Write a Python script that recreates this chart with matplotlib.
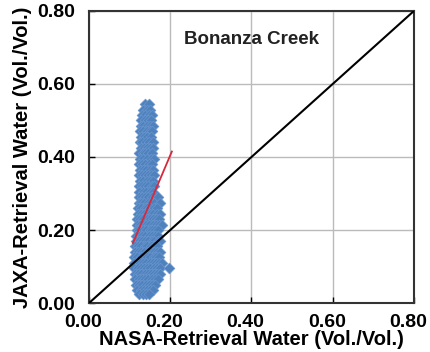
import numpy as np
import matplotlib
matplotlib.use('Agg')
import matplotlib.pyplot as plt
import matplotlib.transforms as mtransforms

plt.rcParams['font.family'] = ['Liberation Sans', 'DejaVu Sans']

# scatter, one row of NASA values per JAXA level
row_jaxa = [0.545, 0.530, 0.515, 0.500, 0.485, 0.470, 0.455, 0.440, 0.425, 0.410,
            0.395, 0.380, 0.365, 0.350, 0.335, 0.320, 0.305, 0.290, 0.275, 0.260,
            0.245, 0.230, 0.215, 0.200, 0.185, 0.170, 0.155, 0.140, 0.125, 0.110,
            0.095, 0.080, 0.065, 0.050, 0.035, 0.025]
row_nasa = [
    [0.138, 0.147],
    [0.133, 0.142, 0.151],
    [0.131, 0.139, 0.148, 0.155],
    [0.129, 0.138, 0.145, 0.153],
    [0.127, 0.134, 0.144, 0.150, 0.157],
    [0.126, 0.133, 0.142, 0.149, 0.156],
    [0.128, 0.136, 0.144, 0.153],
    [0.125, 0.131, 0.140, 0.148, 0.157],
    [0.127, 0.135, 0.143, 0.151, 0.158],
    [0.124, 0.132, 0.139, 0.146, 0.155],
    [0.126, 0.134, 0.142, 0.152, 0.159],
    [0.124, 0.130, 0.138, 0.147, 0.154],
    [0.125, 0.133, 0.141, 0.149, 0.157],
    [0.124, 0.131, 0.137, 0.145, 0.152, 0.160],
    [0.126, 0.134, 0.142, 0.150, 0.157],
    [0.123, 0.130, 0.139, 0.146, 0.155, 0.161],
    [0.124, 0.133, 0.141, 0.149, 0.158],
    [0.123, 0.131, 0.138, 0.146, 0.154, 0.163, 0.169],
    [0.122, 0.129, 0.136, 0.145, 0.152, 0.161, 0.174],
    [0.121, 0.128, 0.137, 0.144, 0.151, 0.160, 0.167],
    [0.120, 0.127, 0.135, 0.142, 0.151, 0.158, 0.167, 0.176],
    [0.119, 0.126, 0.134, 0.143, 0.150, 0.158, 0.165, 0.173],
    [0.118, 0.126, 0.133, 0.141, 0.148, 0.157, 0.164, 0.172, 0.179],
    [0.117, 0.124, 0.132, 0.140, 0.149, 0.156, 0.163, 0.171],
    [0.116, 0.123, 0.131, 0.138, 0.147, 0.155, 0.162, 0.170],
    [0.115, 0.122, 0.130, 0.139, 0.146, 0.154, 0.161, 0.169, 0.176],
    [0.114, 0.121, 0.129, 0.137, 0.144, 0.153, 0.160, 0.168],
    [0.113, 0.120, 0.128, 0.136, 0.145, 0.152, 0.159, 0.167, 0.174],
    [0.112, 0.119, 0.127, 0.135, 0.143, 0.151, 0.159, 0.166, 0.173],
    [0.111, 0.118, 0.126, 0.134, 0.141, 0.150, 0.157, 0.165, 0.172, 0.180],
    [0.112, 0.120, 0.127, 0.136, 0.144, 0.151, 0.160, 0.167, 0.175, 0.196],
    [0.113, 0.121, 0.129, 0.137, 0.145, 0.153, 0.160, 0.168, 0.175],
    [0.114, 0.122, 0.130, 0.138, 0.146, 0.154, 0.162, 0.169],
    [0.116, 0.124, 0.131, 0.140, 0.147, 0.156, 0.163],
    [0.119, 0.127, 0.135, 0.143, 0.151, 0.158],
    [0.124, 0.132, 0.140, 0.148],
]

# red fitted line, end points
fit_x = [0.108, 0.204]
fit_y = [0.164, 0.415]

ticks = [0.0, 0.2, 0.4, 0.6, 0.8]
tick_labels = ['0.00', '0.20', '0.40', '0.60', '0.80']

nasa = np.concatenate([np.array(r) for r in row_nasa])
jaxa = np.concatenate([np.full(len(r), y) for r, y in zip(row_nasa, row_jaxa)])

fig = plt.figure(figsize=(4.31, 3.52), dpi=100)
ax = fig.add_axes([0.2065, 0.139, 0.754, 0.830])

ax.scatter(nasa, jaxa, marker='D', s=30, color='#4F81BD',
           edgecolor='#6A96CF', linewidth=0.5, zorder=3)
ax.plot([0, 0.8], [0, 0.8], color='black', linewidth=1.5, zorder=4)
ax.plot(fit_x, fit_y, color='#D8283C', linewidth=1.3, zorder=5)

ax.set_xlim(0, 0.8)
ax.set_ylim(0, 0.8)
ax.set_xticks(ticks)
ax.set_yticks(ticks)
ax.set_xticklabels(tick_labels, fontsize=14, fontweight='bold')
ax.set_yticklabels(tick_labels, fontsize=14, fontweight='bold')
ax.tick_params(direction='in', length=4, width=1, pad=8)
ax.tick_params(axis='y', pad=10)
ax.grid(True, color='#BBBBBB', linewidth=1)
ax.set_axisbelow(True)
for s in ax.spines.values():
    s.set_linewidth(1.5)
    s.set_color('#333333')

# x tick labels sit a little left of their ticks in the original
shift = mtransforms.ScaledTranslation(-0.06, 0, fig.dpi_scale_trans)
for lbl in ax.get_xticklabels():
    lbl.set_transform(lbl.get_transform() + shift)

ax.set_xlabel('NASA-Retrieval Water (Vol./Vol.)', fontsize=14.5, fontweight='bold', labelpad=-1)
ax.set_ylabel('JAXA-Retrieval Water (Vol./Vol.)', fontsize=14.5, fontweight='bold', labelpad=4)
ax.text(0.40, 0.723, 'Bonanza Creek', fontsize=13.5, fontweight='bold',
        ha='center', va='center', color='#222222')

fig.savefig('out.png', dpi=100)
